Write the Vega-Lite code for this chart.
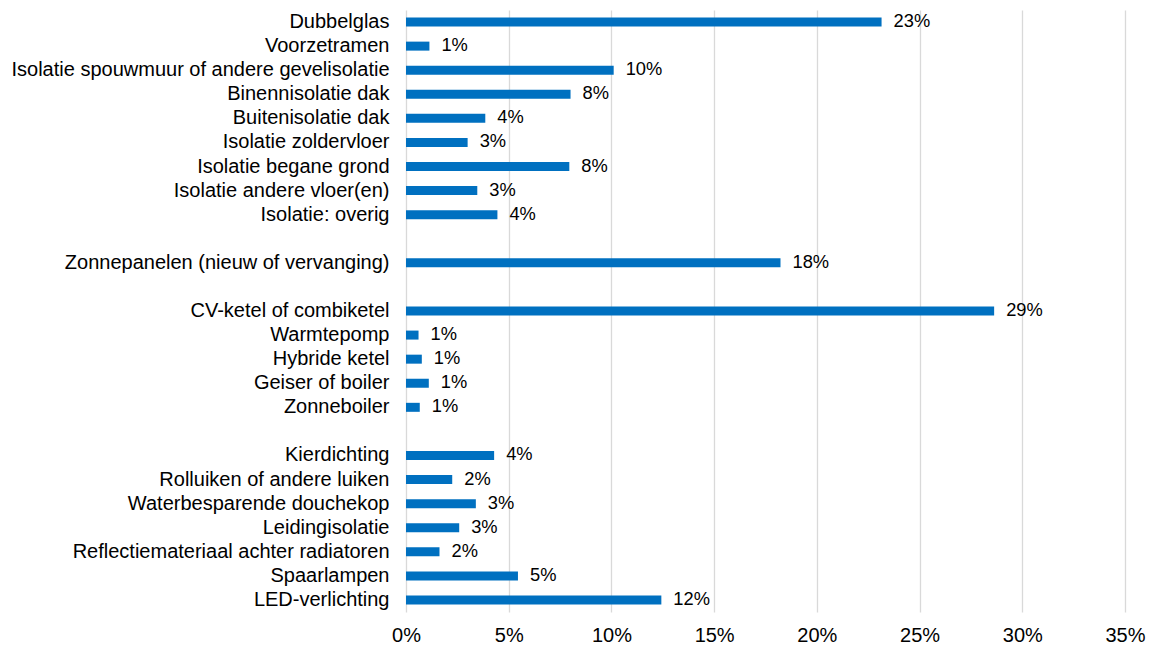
{
  "$schema": "https://vega.github.io/schema/vega-lite/v6.json",
  "width": 719,
  "height": 602,
  "autosize": {"type": "none"},
  "padding": {"left": 406, "top": 10, "right": 28, "bottom": 34},
  "background": "white",
  "config": {
    "view": {"stroke": null},
    "font": "Liberation Sans"
  },
  "data": {
    "values": [
      {"cat": "Dubbelglas", "value": 0.2315},
      {"cat": "Voorzetramen", "value": 0.0114},
      {"cat": "Isolatie spouwmuur of andere gevelisolatie", "value": 0.1011},
      {"cat": "Binennisolatie dak", "value": 0.0801},
      {"cat": "Buitenisolatie dak", "value": 0.0386},
      {"cat": "Isolatie zoldervloer", "value": 0.0300},
      {"cat": "Isolatie begane grond", "value": 0.0795},
      {"cat": "Isolatie andere vloer(en)", "value": 0.0347},
      {"cat": "Isolatie: overig", "value": 0.0445},
      {"cat": "Zonnepanelen (nieuw of vervanging)", "value": 0.1823},
      {"cat": "CV-ketel of combiketel", "value": 0.2863},
      {"cat": "Warmtepomp", "value": 0.0061},
      {"cat": "Hybride ketel", "value": 0.0077},
      {"cat": "Geiser of boiler", "value": 0.0111},
      {"cat": "Zonneboiler", "value": 0.0067},
      {"cat": "Kierdichting", "value": 0.0429},
      {"cat": "Rolluiken of andere luiken", "value": 0.0225},
      {"cat": "Waterbesparende douchekop", "value": 0.0340},
      {"cat": "Leidingisolatie", "value": 0.0259},
      {"cat": "Reflectiemateriaal achter radiatoren", "value": 0.0163},
      {"cat": "Spaarlampen", "value": 0.0545},
      {"cat": "LED-verlichting", "value": 0.1243}
    ]
  },
  "encoding": {
    "y": {
      "field": "cat",
      "type": "nominal",
      "title": null,
      "scale": {
        "domain": [
          "Dubbelglas", "Voorzetramen", "Isolatie spouwmuur of andere gevelisolatie",
          "Binennisolatie dak", "Buitenisolatie dak", "Isolatie zoldervloer",
          "Isolatie begane grond", "Isolatie andere vloer(en)", "Isolatie: overig",
          " ", "Zonnepanelen (nieuw of vervanging)", "  ",
          "CV-ketel of combiketel", "Warmtepomp", "Hybride ketel", "Geiser of boiler", "Zonneboiler",
          "   ", "Kierdichting", "Rolluiken of andere luiken", "Waterbesparende douchekop",
          "Leidingisolatie", "Reflectiemateriaal achter radiatoren", "Spaarlampen", "LED-verlichting"
        ],
        "paddingInner": 0,
        "paddingOuter": 0
      },
      "axis": {
        "domain": false,
        "ticks": false,
        "grid": false,
        "labelPadding": 17,
        "labelLimit": 0,
        "labelFontSize": 20,
        "labelColor": "#000000",
        "labelFont": "Liberation Sans"
      }
    },
    "x": {
      "field": "value",
      "type": "quantitative",
      "title": null,
      "scale": {"domain": [0, 0.35], "nice": false, "zero": true},
      "axis": {
        "values": [0, 0.05, 0.1, 0.15, 0.2, 0.25, 0.3, 0.35],
        "format": ".0%",
        "domain": false,
        "ticks": false,
        "grid": true,
        "gridColor": "#d9d9d9",
        "gridWidth": 1.3,
        "labelFlush": false,
        "labelPadding": 13,
        "labelFontSize": 20,
        "labelColor": "#000000",
        "labelFont": "Liberation Sans"
      }
    }
  },
  "layer": [
    {
      "mark": {"type": "bar", "color": "#0070C0", "size": 9, "x": 1}
    },
    {
      "mark": {"type": "text", "align": "left", "baseline": "middle", "dx": 12, "fontSize": 18.3, "color": "#000000", "font": "Liberation Sans"},
      "encoding": {
        "text": {"field": "value", "type": "quantitative", "format": ".0%"}
      }
    }
  ]
}
